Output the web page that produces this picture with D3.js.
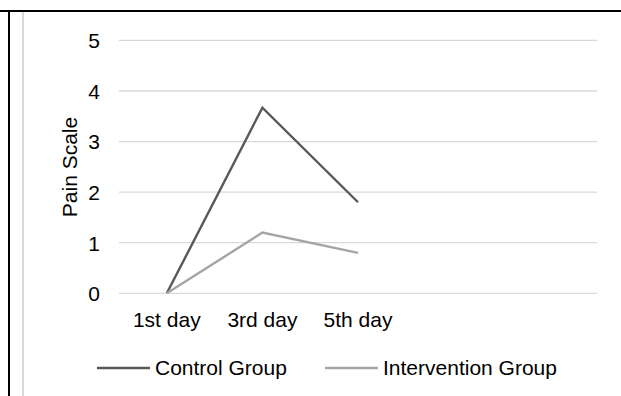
<!DOCTYPE html>
<html><head><meta charset="utf-8">
<script src="https://cdn.jsdelivr.net/npm/d3@7"></script>
<style>body{margin:0;background:#fff}svg{display:block;font-family:"Liberation Sans",Arial,sans-serif}</style>
</head><body>
<svg id="c" width="621" height="396"></svg>
<script>
const categories = ["1st day", "3rd day", "5th day", "", " "];
const controlValues = [0, 3.67, 1.8];
const interventionValues = [0, 1.2, 0.8];
const yTicks = [0, 1, 2, 3, 4, 5];
const seriesNames = ["Control Group", "Intervention Group"];
const seriesColors = ["#595959", "#a5a5a5"];

const FS = 21;
const svg = d3.select("#c");
// frame lines
svg.append("line").attr("x1",0).attr("x2",621).attr("y1",11).attr("y2",11).attr("stroke","#000").attr("stroke-width",2);
svg.append("line").attr("x1",9).attr("x2",9).attr("y1",10).attr("y2",396).attr("stroke","#000").attr("stroke-width",2);
svg.append("line").attr("x1",23).attr("x2",23).attr("y1",12).attr("y2",396).attr("stroke","#d9d9d9").attr("stroke-width",2);

const left = 119, right = 597;
const x = d3.scaleBand().domain(categories).range([left, right]);
const y = d3.scaleLinear().domain([0, 5]).range([293.3, 40.4]);

// gridlines
svg.append("g").selectAll("line").data(yTicks).join("line")
  .attr("x1", left).attr("x2", right)
  .attr("y1", d => y(d)).attr("y2", d => y(d))
  .attr("stroke", "#d9d9d9").attr("stroke-width", 1.3);

// y axis labels
const yAxis = d3.axisLeft(y).tickValues(yTicks).tickFormat(d3.format("d")).tickSize(0).tickPadding(0);
const yg = svg.append("g").attr("transform", "translate(100,0)").call(yAxis);
yg.select(".domain").remove();
yg.selectAll("text").attr("font-size", FS).attr("fill", "#000").attr("font-family", "Liberation Sans, Arial, sans-serif").attr("dy","0.35em");

// x axis labels
const xAxis = d3.axisBottom(x).tickSize(0).tickPadding(0);
const xg = svg.append("g").attr("transform", "translate(0,312)").call(xAxis);
xg.select(".domain").remove();
xg.selectAll("text").attr("font-size", FS).attr("fill", "#000").attr("font-family", "Liberation Sans, Arial, sans-serif").attr("dy","0.72em");

// y title
svg.append("text").attr("transform", "translate(77,167) rotate(-90)")
  .attr("text-anchor", "middle").attr("font-size", FS).attr("fill", "#000").text("Pain Scale");

// lines
const cx = i => x(categories[i]) + x.bandwidth() / 2;
const line = d3.line().x((d, i) => cx(i)).y(d => y(d));
[controlValues, interventionValues].forEach((vals, k) => {
  svg.append("path").datum(vals).attr("d", line).attr("fill", "none")
    .attr("stroke", seriesColors[k]).attr("stroke-width", 2.4).attr("stroke-linejoin", "miter");
});

// legend
const legendX = [97, 325];
seriesNames.forEach((name, k) => {
  const g = svg.append("g").attr("transform", `translate(${legendX[k]},368)`);
  g.append("line").attr("x1", 0).attr("x2", 53).attr("y1", 0).attr("y2", 0)
    .attr("stroke", seriesColors[k]).attr("stroke-width", 2.4);
  g.append("text").attr("x", 58).attr("dy", "0.35em").attr("font-size", FS).attr("fill", "#000").text(name);
});
</script>
</body></html>
